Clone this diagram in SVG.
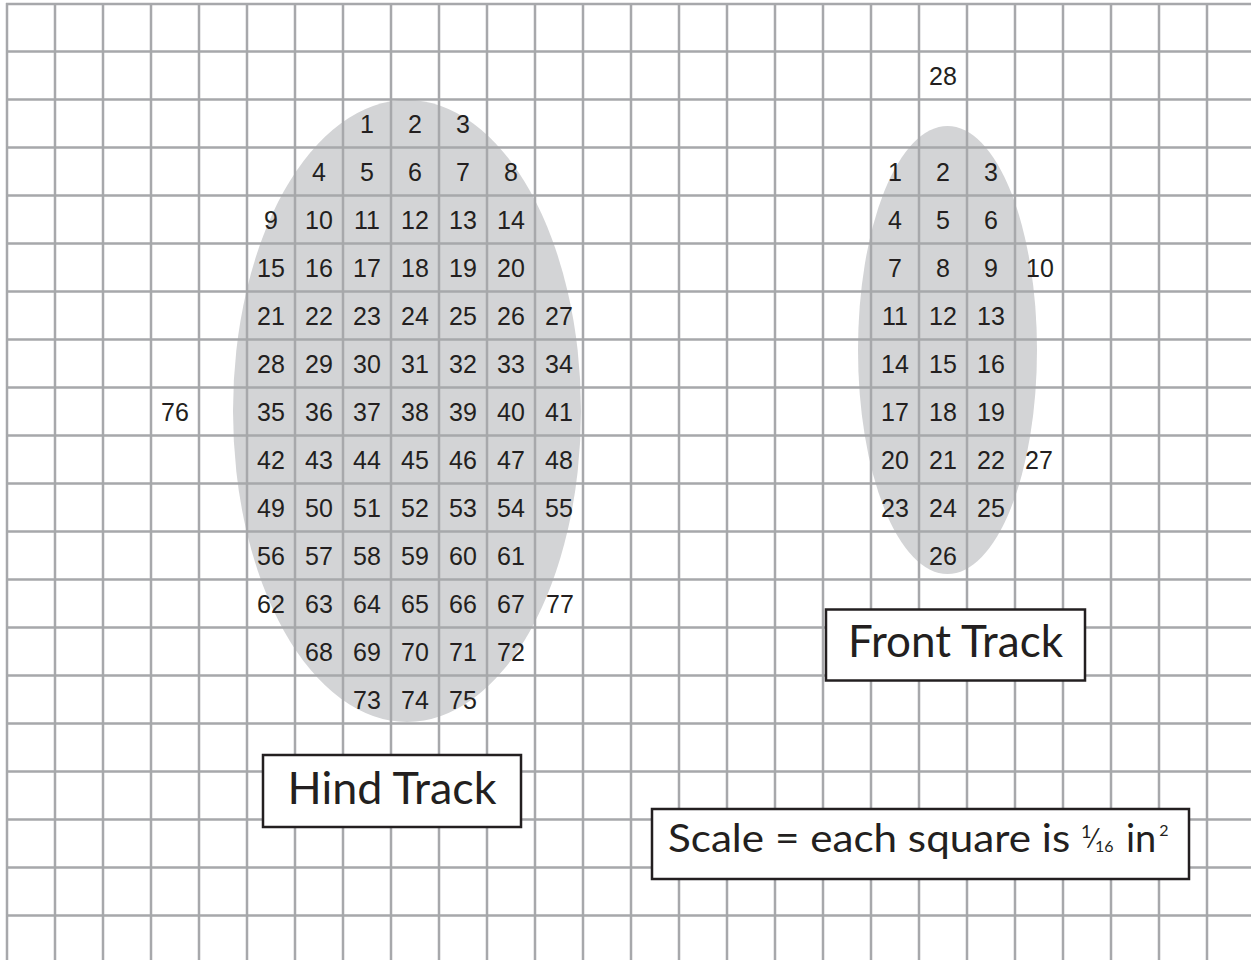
<svg xmlns="http://www.w3.org/2000/svg" width="1251" height="960" viewBox="0 0 1251 960">
<style>
.grid{stroke:#a7a8ab;stroke-width:2.5;fill:none}
.shade{fill:#d3d4d6;stroke:none}
.n{font-family:"Liberation Sans",Arial,sans-serif;font-size:25px;text-anchor:middle;fill:#231f20}
.box{fill:#ffffff;stroke:#231f20;stroke-width:2.5}
.lbl{font-family:Lato,"Liberation Sans",sans-serif;font-size:44px;text-anchor:middle;fill:#231f20}
.sc{font-family:Lato,"Liberation Sans",sans-serif;font-size:38px;fill:#231f20}
</style>
<rect x="0" y="0" width="1251" height="960" fill="#ffffff"/>
<g id="shading">
<ellipse class="shade" cx="407" cy="411" rx="174" ry="311"/>
<ellipse class="shade" cx="947.5" cy="350" rx="89.5" ry="224"/>
</g>
<g id="grid" class="grid">
<path d="M7 3V960M55 3V960M103 3V960M151 3V960M199 3V960M247 3V960M295 3V960M343 3V960M391 3V960M439 3V960M487 3V960M535 3V960M583 3V960M631 3V960M679 3V960M727 3V960M775 3V960M823 3V960M871 3V960M919 3V960M967 3V960M1015 3V960M1063 3V960M1111 3V960M1159 3V960M1207 3V960"/>
<path d="M6 4H1251M6 51.5H1251M6 99.5H1251M6 147.5H1251M6 195.5H1251M6 243.5H1251M6 291.5H1251M6 339.5H1251M6 387.5H1251M6 435.5H1251M6 483.5H1251M6 531.5H1251M6 579.5H1251M6 627.5H1251M6 675.5H1251M6 723.5H1251M6 771.5H1251M6 819.5H1251M6 867.5H1251M6 915.5H1251"/>
</g>
<g id="hind-track">
<text class="n" x="367" y="132.5">1</text><text class="n" x="415" y="132.5">2</text><text class="n" x="463" y="132.5">3</text>
<text class="n" x="319" y="180.5">4</text><text class="n" x="367" y="180.5">5</text><text class="n" x="415" y="180.5">6</text><text class="n" x="463" y="180.5">7</text><text class="n" x="511" y="180.5">8</text>
<text class="n" x="271" y="228.5">9</text><text class="n" x="319" y="228.5">10</text><text class="n" x="367" y="228.5">11</text><text class="n" x="415" y="228.5">12</text><text class="n" x="463" y="228.5">13</text><text class="n" x="511" y="228.5">14</text>
<text class="n" x="271" y="276.5">15</text><text class="n" x="319" y="276.5">16</text><text class="n" x="367" y="276.5">17</text><text class="n" x="415" y="276.5">18</text><text class="n" x="463" y="276.5">19</text><text class="n" x="511" y="276.5">20</text>
<text class="n" x="271" y="324.5">21</text><text class="n" x="319" y="324.5">22</text><text class="n" x="367" y="324.5">23</text><text class="n" x="415" y="324.5">24</text><text class="n" x="463" y="324.5">25</text><text class="n" x="511" y="324.5">26</text><text class="n" x="559" y="324.5">27</text>
<text class="n" x="271" y="372.5">28</text><text class="n" x="319" y="372.5">29</text><text class="n" x="367" y="372.5">30</text><text class="n" x="415" y="372.5">31</text><text class="n" x="463" y="372.5">32</text><text class="n" x="511" y="372.5">33</text><text class="n" x="559" y="372.5">34</text>
<text class="n" x="175" y="420.5">76</text>
<text class="n" x="271" y="420.5">35</text><text class="n" x="319" y="420.5">36</text><text class="n" x="367" y="420.5">37</text><text class="n" x="415" y="420.5">38</text><text class="n" x="463" y="420.5">39</text><text class="n" x="511" y="420.5">40</text><text class="n" x="559" y="420.5">41</text>
<text class="n" x="271" y="468.5">42</text><text class="n" x="319" y="468.5">43</text><text class="n" x="367" y="468.5">44</text><text class="n" x="415" y="468.5">45</text><text class="n" x="463" y="468.5">46</text><text class="n" x="511" y="468.5">47</text><text class="n" x="559" y="468.5">48</text>
<text class="n" x="271" y="516.5">49</text><text class="n" x="319" y="516.5">50</text><text class="n" x="367" y="516.5">51</text><text class="n" x="415" y="516.5">52</text><text class="n" x="463" y="516.5">53</text><text class="n" x="511" y="516.5">54</text><text class="n" x="559" y="516.5">55</text>
<text class="n" x="271" y="564.5">56</text><text class="n" x="319" y="564.5">57</text><text class="n" x="367" y="564.5">58</text><text class="n" x="415" y="564.5">59</text><text class="n" x="463" y="564.5">60</text><text class="n" x="511" y="564.5">61</text>
<text class="n" x="271" y="612.5">62</text><text class="n" x="319" y="612.5">63</text><text class="n" x="367" y="612.5">64</text><text class="n" x="415" y="612.5">65</text><text class="n" x="463" y="612.5">66</text><text class="n" x="511" y="612.5">67</text><text class="n" x="560" y="612.5">77</text>
<text class="n" x="319" y="660.5">68</text><text class="n" x="367" y="660.5">69</text><text class="n" x="415" y="660.5">70</text><text class="n" x="463" y="660.5">71</text><text class="n" x="511" y="660.5">72</text>
<text class="n" x="367" y="708.5">73</text><text class="n" x="415" y="708.5">74</text><text class="n" x="463" y="708.5">75</text>
</g>
<g id="front-track">
<text class="n" x="943" y="84.5">28</text>
<text class="n" x="895" y="180.5">1</text><text class="n" x="943" y="180.5">2</text><text class="n" x="991" y="180.5">3</text>
<text class="n" x="895" y="228.5">4</text><text class="n" x="943" y="228.5">5</text><text class="n" x="991" y="228.5">6</text>
<text class="n" x="895" y="276.5">7</text><text class="n" x="943" y="276.5">8</text><text class="n" x="991" y="276.5">9</text><text class="n" x="1040" y="276.5">10</text>
<text class="n" x="895" y="324.5">11</text><text class="n" x="943" y="324.5">12</text><text class="n" x="991" y="324.5">13</text>
<text class="n" x="895" y="372.5">14</text><text class="n" x="943" y="372.5">15</text><text class="n" x="991" y="372.5">16</text>
<text class="n" x="895" y="420.5">17</text><text class="n" x="943" y="420.5">18</text><text class="n" x="991" y="420.5">19</text>
<text class="n" x="895" y="468.5">20</text><text class="n" x="943" y="468.5">21</text><text class="n" x="991" y="468.5">22</text><text class="n" x="1039" y="468.5">27</text>
<text class="n" x="895" y="516.5">23</text><text class="n" x="943" y="516.5">24</text><text class="n" x="991" y="516.5">25</text>
<text class="n" x="943" y="564.5">26</text>
</g>
<g id="hind-label">
<rect class="box" x="263" y="755" width="258" height="72"/>
<text class="lbl" x="392" y="804" textLength="209" lengthAdjust="spacingAndGlyphs">Hind Track</text>
</g>
<g id="front-label">
<rect class="box" x="826" y="609.5" width="259" height="71"/>
<text class="lbl" x="955.5" y="657" textLength="215" lengthAdjust="spacingAndGlyphs">Front Track</text>
</g>
<g id="scale-label">
<rect class="box" x="652" y="809" width="537" height="70"/>
<text class="sc" x="668" y="852"><tspan textLength="413" lengthAdjust="spacingAndGlyphs">Scale = each square is </tspan><tspan font-size="18" dy="-14">1</tspan><tspan font-size="26" dy="10">⁄</tspan><tspan font-size="16" dy="4">16</tspan><tspan dy="0" x="1126">in</tspan><tspan font-size="16" dy="-16" dx="3">2</tspan></text>
</g>
</svg>
